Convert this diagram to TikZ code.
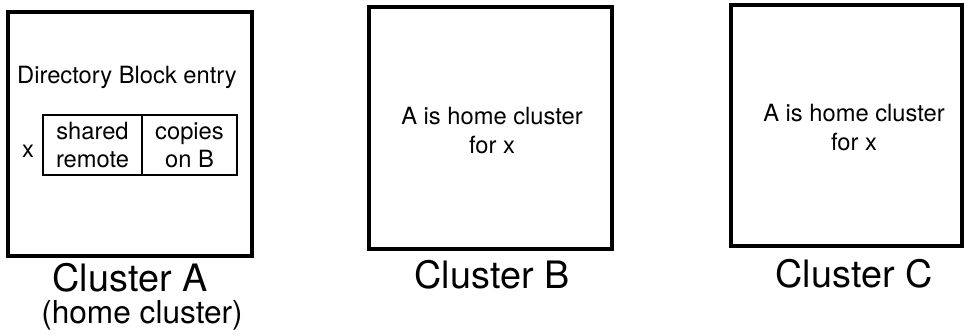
\documentclass[tikz,border=0pt]{standalone}
\usepackage{fontspec}
\setmainfont{TeX Gyre Heros}
\usetikzlibrary{positioning}

\begin{document}
\begin{tikzpicture}[x=0.02cm,y=-0.02cm,
  cluster/.style={draw,line width=2pt,inner sep=0pt},
  cell/.style={draw,line width=1.3pt,inner sep=0pt,minimum height=1.2cm,
               align=center,font=\fontsize{13.5}{16}\selectfont},
  note/.style={align=center,inner sep=0pt,font=\fontsize{13.5}{16.5}\selectfont},
  caption/.style={align=center,inner sep=0pt,font=\fontsize{21.5}{24}\selectfont}]
\useasboundingbox (0,0) rectangle (964,335);
% the three clusters
\node[cluster,minimum width=4.88cm,minimum height=4.88cm] (clA) at (130,134)   {};
\node[cluster,minimum width=4.86cm,minimum height=4.84cm] (clB) at (490.5,128) {};
\node[cluster,minimum width=4.62cm,minimum height=4.82cm] (clC) at (846.5,125.5) {};
% directory entry in A
\node[note] (dir) at (127,77) {Directory Block entry};
\node[cell,minimum width=1.98cm] (state)  at (92.5,145)  {shared\\remote};
\node[cell,minimum width=1.9cm]  (copies) at (189.5,145) {copies\\on B};
\node[note] (blk) at (28,151) {x};
% notes in B and C
\node[note] (homeB) at (492,131) {A is home cluster\\for x};
\node[note] (homeC) at (854,128) {A is home cluster\\for x};
% captions
\node[caption] (capA) at (130,278) {Cluster A};
\node[inner sep=0pt,font=\fontsize{18}{20}\selectfont] (subA) at (142,315) {(home cluster)};
\node[caption] (capB) at (492,275) {Cluster B};
\node[caption] (capC) at (854,274) {Cluster C};
\end{tikzpicture}
\end{document}
